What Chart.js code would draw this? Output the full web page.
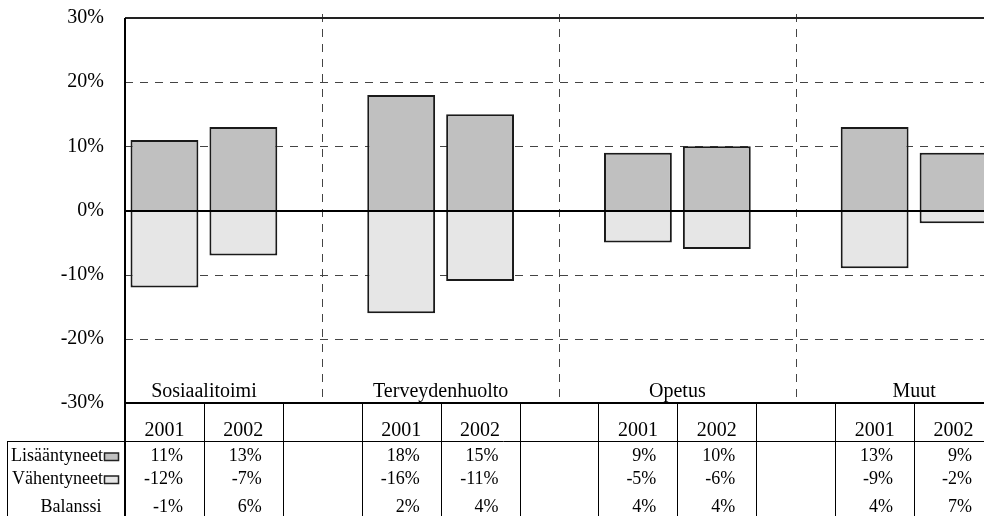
<!DOCTYPE html>
<html>
<head>
<meta charset="utf-8">
<script src="https://cdn.jsdelivr.net/npm/chart.js@4"></script>
<style>
  html, body { margin: 0; padding: 0; background: #fff; overflow: hidden; }
  #wrap { position: absolute; left: 0; top: 0; width: 1000px; height: 530px; }
</style>
</head>
<body>
<div id="wrap"><canvas id="chart" width="1000" height="530"></canvas></div>
<script>
const categories = ['2001', '2002', '', '2001', '2002', '', '2001', '2002', '', '2001', '2002'];
const groups = ['Sosiaalitoimi', 'Terveydenhuolto', 'Opetus', 'Muut'];
const groupStart = [0, 3, 6, 9];
const lisaantyneet = [11, 13, null, 18, 15, null, 9, 10, null, 13, 9];
const vahentyneet = [-12, -7, null, -16, -11, null, -5, -6, null, -9, -2];
const balanssi = [-1, 6, null, 2, 4, null, 4, 4, null, 4, 7];
const yTicks = [-30, -20, -10, 0, 10, 20, 30];
const rowLabels = ['Lisääntyneet', 'Vähentyneet', 'Balanssi'];

const FONT = "'Liberation Serif', 'Times New Roman', serif";
const colorUp = '#c0c0c0';
const colorDown = '#e6e6e6';

function fmt(v) {
  return v === null ? '' : v + '%';
}

const tablePlugin = {
  id: 'excelTable',
  beforeDatasetsDraw(chart) {
    const { ctx, chartArea: a, scales: { x, y } } = chart;
    ctx.save();
    ctx.strokeStyle = '#444';
    ctx.lineWidth = 1;
    ctx.setLineDash([8, 7]);
    // horizontal gridlines
    yTicks.forEach(t => {
      if (t === 0 || t === 30 || t === -30) return;
      const py = Math.round(y.getPixelForValue(t)) + 0.5;
      ctx.beginPath();
      ctx.moveTo(a.left, py);
      ctx.lineTo(a.right, py);
      ctx.stroke();
    });
    // vertical separators in the blank columns
    categories.forEach((c, i) => {
      if (c !== '') return;
      const px = Math.round(x.getPixelForValue(i)) + 0.5;
      ctx.beginPath();
      ctx.moveTo(px, a.top - 4);
      ctx.lineTo(px, a.bottom);
      ctx.stroke();
    });
    ctx.restore();
  },
  afterDatasetsDraw(chart) {
    const { ctx, chartArea: a, scales: { x, y } } = chart;
    const H = chart.height;
    const colW = (a.right - a.left) / categories.length;
    ctx.save();
    ctx.setLineDash([]);
    ctx.strokeStyle = '#000';

    // zero line
    ctx.lineWidth = 2;
    const y0 = Math.round(y.getPixelForValue(0));
    ctx.beginPath();
    ctx.moveTo(a.left, y0);
    ctx.lineTo(a.right, y0);
    ctx.stroke();

    // frame: top, bottom, left axis
    ctx.strokeStyle = '#222';
    ctx.beginPath();
    ctx.moveTo(a.left, a.top);
    ctx.lineTo(a.right, a.top);
    ctx.stroke();
    ctx.strokeStyle = '#000';
    ctx.beginPath();
    ctx.moveTo(a.left, a.bottom);
    ctx.lineTo(a.right, a.bottom);
    ctx.moveTo(a.left, a.top);
    ctx.lineTo(a.left, H);
    ctx.stroke();

    // group labels
    ctx.fillStyle = '#000';
    ctx.font = '20px ' + FONT;
    ctx.textAlign = 'center';
    ctx.textBaseline = 'alphabetic';
    groups.forEach((g, k) => {
      const cx = x.getPixelForValue(groupStart[k]) + colW / 2;
      ctx.fillText(g, cx, a.bottom - 6);
    });

    // table grid
    const rowTop = a.bottom + 38;
    ctx.lineWidth = 1;
    ctx.beginPath();
    for (let i = 1; i <= categories.length; i++) {
      const px = Math.round(x.getPixelForValue(i) - colW / 2) + 0.5;
      ctx.moveTo(px, a.bottom);
      ctx.lineTo(px, H);
    }
    ctx.moveTo(7.5, rowTop);
    ctx.lineTo(7.5, H);
    ctx.moveTo(7, rowTop + 0.5);
    ctx.lineTo(chart.width, rowTop + 0.5);
    ctx.stroke();

    // year header
    ctx.font = '20px ' + FONT;
    ctx.textAlign = 'center';
    categories.forEach((c, i) => {
      ctx.fillText(c, x.getPixelForValue(i), a.bottom + 33);
    });

    // data rows
    const rows = [lisaantyneet, vahentyneet, balanssi];
    const baselines = [rowTop + 20, rowTop + 43, rowTop + 71];
    ctx.font = '18px ' + FONT;
    rows.forEach((r, j) => {
      ctx.textAlign = 'right';
      r.forEach((v, i) => {
        ctx.fillText(fmt(v), x.getPixelForValue(i) + colW / 2 - 21, baselines[j]);
      });
    });

    // row labels with legend keys
    const keyColors = [colorUp, colorDown, null];
    rowLabels.forEach((lab, j) => {
      const key = keyColors[j];
      const tw = ctx.measureText(lab).width;
      const start = key ? 103 - tw : 71 - tw / 2;
      ctx.textAlign = 'left';
      ctx.fillText(lab, start, baselines[j]);
      if (key) {
        const kx = start + tw + 1.5;
        const ky = baselines[j] - 8;
        ctx.fillStyle = key;
        ctx.fillRect(kx, ky, 14, 7.5);
        ctx.strokeStyle = '#222';
        ctx.lineWidth = 1.5;
        ctx.strokeRect(kx, ky, 14, 7.5);
        ctx.fillStyle = '#000';
      }
    });
    ctx.restore();
  }
};

new Chart(document.getElementById('chart').getContext('2d'), {
  type: 'bar',
  data: {
    labels: categories,
    datasets: [
      {
        label: rowLabels[0],
        data: lisaantyneet,
        backgroundColor: colorUp,
        borderColor: '#1a1a1a',
        borderWidth: 2,
        borderSkipped: 'start'
      },
      {
        label: rowLabels[1],
        data: vahentyneet,
        backgroundColor: colorDown,
        borderColor: '#1a1a1a',
        borderWidth: 2,
        borderSkipped: 'start'
      }
    ]
  },
  options: {
    responsive: false,
    devicePixelRatio: 1,
    animation: false,
    barPercentage: 0.86,
    categoryPercentage: 1,
    layout: { padding: { top: 18, right: 7, bottom: 127, left: 0 } },
    scales: {
      x: { display: false, stacked: true },
      y: {
        stacked: true,
        min: -30,
        max: 30,
        afterFit: s => {
          s.width = 125;
          s.paddingTop = 0;
          s.paddingBottom = 0;
        },
        grid: { display: false, drawTicks: false },
        border: { display: false },
        ticks: {
          stepSize: 10,
          padding: 21,
          color: '#000',
          font: { family: FONT, size: 20 },
          callback: v => v + '%'
        }
      }
    },
    plugins: {
      legend: { display: false },
      tooltip: { enabled: false }
    }
  },
  plugins: [tablePlugin]
});
</script>
</body>
</html>
